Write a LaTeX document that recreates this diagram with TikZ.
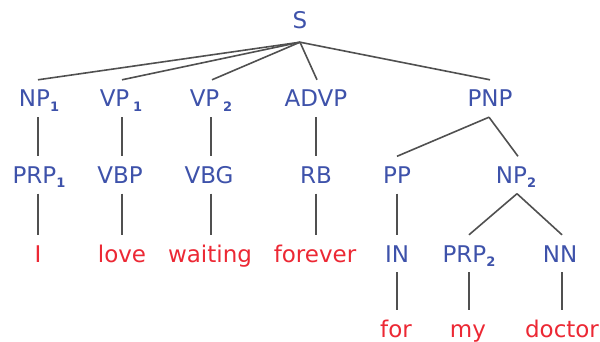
\documentclass[tikz,border=0pt]{standalone}
\usepackage{fontspec}
\setmainfont{DejaVu Sans}
\definecolor{tagblue}{RGB}{62,82,170}
\definecolor{wordred}{RGB}{236,40,52}
\definecolor{edgegray}{RGB}{80,80,80}
\begin{document}
\begin{tikzpicture}[x=1pt,y=-1pt,
  base/.style={font=\fontsize{23}{27}\selectfont, text height=17pt, text depth=0pt, inner xsep=0pt, inner ysep=10pt},
  tag/.style={base, text=tagblue},
  word/.style={base, text=wordred},
  edge/.style={draw=edgegray, line width=1.6pt}]
\useasboundingbox (0,0) rectangle (600,342);
\newcommand{\sbs}[1]{\raisebox{-4.5pt}{\fontsize{13}{13}\selectfont\textbf{#1}}}
% row 0
\node[tag, inner ysep=13.5pt] (S) at (300,20) {S};
% row 1
\node[tag] (NP1) at (39,98.5) {NP\sbs{1}};
\node[tag] (VP1) at (121,98.5) {VP\,\sbs{1}};
\node[tag] (VP2) at (211,98.5) {VP\,\sbs{2}};
\node[tag] (ADVP) at (316,98.5) {ADVP};
\node[tag] (PNP) at (490,98.5) {PNP};
% row 2
\node[tag] (PRP1) at (39,175) {PRP\sbs{1}};
\node[tag] (VBP) at (120,175) {VBP};
\node[tag] (VBG) at (209,175) {VBG};
\node[tag] (RB) at (316,175) {RB};
\node[tag] (PP) at (397,175) {PP};
\node[tag] (NP2) at (516,175) {NP\sbs{2}};
% row 3
\node[word] (I) at (38,253.5) {I};
\node[word] (love) at (122,253.5) {love};
\node[word] (waiting) at (210,253.5) {waiting};
\node[word] (forever) at (315,253.5) {forever};
\node[tag] (IN) at (397,253.5) {IN};
\node[tag] (PRP2) at (469,253.5) {PRP\sbs{2}};
\node[tag] (NN) at (560,253.5) {NN};
% row 4
\node[word] (for) at (396,329) {for};
\node[word] (my) at (468,329) {my};
\node[word] (doctor) at (562,329) {doctor};
% edges from S
\foreach \c/\cx in {NP1/38,VP1/122,VP2/212,ADVP/317,PNP/490}
  \draw[edge] (S.south) -- (\c.north -| \cx,0);
% row 1 -> row 2
\draw[edge] (NP1.south -| 38,0) -- (PRP1.north -| 38,0);
\draw[edge] (VP1.south -| 122,0) -- (VBP.north -| 122,0);
\draw[edge] (VP2.south -| 211,0) -- (VBG.north -| 211,0);
\draw[edge] (ADVP.south) -- (RB.north);
\draw[edge] (PNP.south -| 489,0) -- (PP.north);
\draw[edge] (PNP.south -| 489,0) -- (NP2.north -| 518,0);
% row 2 -> row 3
\draw[edge] (PRP1.south -| 38,0) -- (I.north);
\draw[edge] (VBP.south -| 122,0) -- (love.north);
\draw[edge] (VBG.south -| 211,0) -- (waiting.north -| 211,0);
\draw[edge] (RB.south) -- (forever.north -| 316,0);
\draw[edge] (PP.south) -- (IN.north);
\draw[edge] (NP2.south -| 517,0) -- (PRP2.north);
\draw[edge] (NP2.south -| 517,0) -- (NN.north -| 562,0);
% row 3 -> row 4
\draw[edge] (IN.south) -- (for.north -| 397,0);
\draw[edge] (PRP2.south) -- (my.north -| 469,0);
\draw[edge] (NN.south -| 562,0) -- (doctor.north);
\end{tikzpicture}
\end{document}
